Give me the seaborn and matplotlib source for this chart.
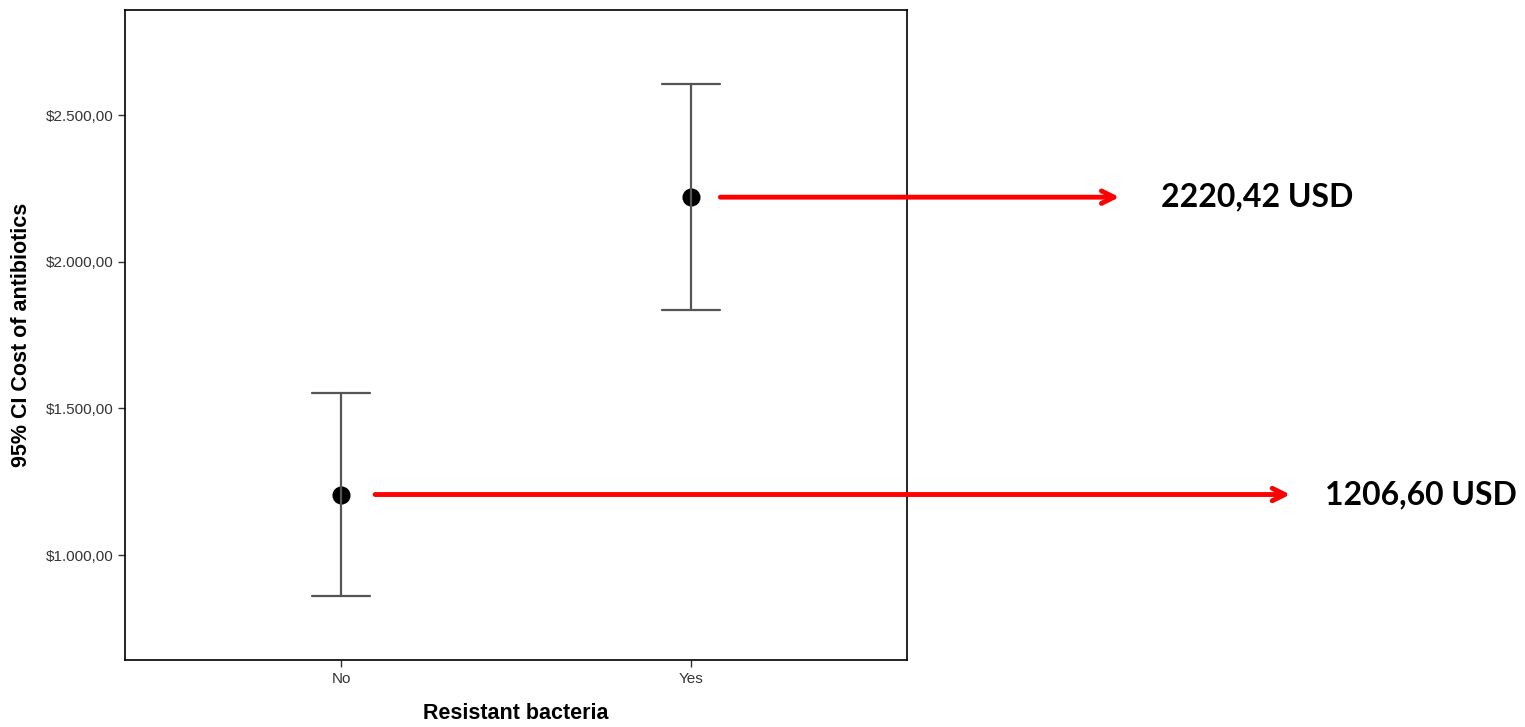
import pandas as pd
import matplotlib
matplotlib.use("Agg")
import matplotlib.pyplot as plt
import seaborn as sns

# values
groups = ["No", "Yes"]
means = [1206.60, 2220.42]
ci_low = [860, 1836]
ci_high = [1552, 2606]
labels = ["1206,60 USD", "2220,42 USD"]
y_ticks = [1000, 1500, 2000, 2500]
y_tick_labels = ["$1.000,00", "$1.500,00", "$2.000,00", "$2.500,00"]

# long table: lower bound, mean, upper bound per group
rows = []
for g, lo, m, hi in zip(groups, ci_low, means, ci_high):
    for v in (lo, m, hi):
        rows.append({"group": g, "cost": v})
df = pd.DataFrame(rows)

sns.set_style("white")
plt.rcParams["font.family"] = ["Liberation Sans", "DejaVu Sans"]

fig = plt.figure(figsize=(15.25, 7.27), dpi=100)
ax = fig.add_axes([0.082, 0.092, 0.513, 0.894])

sns.pointplot(
    data=df, x="group", y="cost", order=groups,
    estimator="median", errorbar=lambda v: (v.min(), v.max()),
    color="black", linestyle="none", markersize=11, capsize=0.165,
    err_kws={"color": "#555555", "linewidth": 1.6},
    ax=ax,
)

ax.set_xlim(-0.617, 1.617)
ax.set_ylim(642, 2858)
ax.set_yticks(y_ticks)
ax.set_yticklabels(y_tick_labels)
ax.tick_params(axis="both", direction="out", length=5, width=1,
               labelsize=11, labelcolor="#333333", color="#333333",
               left=True, bottom=True)
for s in ax.spines.values():
    s.set_color("black")
    s.set_linewidth(1.2)

ax.set_xlabel("Resistant bacteria", fontsize=15.5, fontweight="bold",
              color="black", labelpad=12)
ax.set_ylabel("95% CI Cost of antibiotics", fontsize=15.5, fontweight="bold",
              color="black", labelpad=10)

# red arrows to the value labels
starts = [0.097, 1.083]
ends = [0.846, 0.734]
text_x = [0.869, 0.761]
for i in range(len(groups)):
    ax.annotate(
        "", xy=(ends[i], means[i]), xycoords=("figure fraction", "data"),
        xytext=(starts[i], means[i]), textcoords="data",
        arrowprops=dict(arrowstyle="->,head_length=0.9,head_width=0.45",
                        color="red", lw=3.5, shrinkA=0, shrinkB=0),
        annotation_clip=False,
    )
    ax.annotate(
        labels[i], xy=(text_x[i], means[i]), xycoords=("figure fraction", "data"),
        fontsize=23, fontweight="bold", family=["Lato", "DejaVu Sans"],
        color="black", va="center", ha="left", annotation_clip=False,
    )

fig.savefig("out.png", dpi=100)
